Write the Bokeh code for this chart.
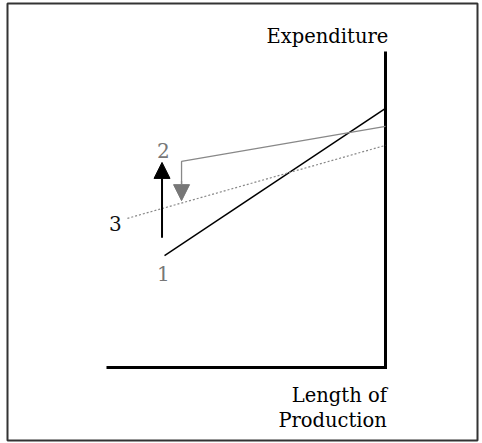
from bokeh.plotting import figure
from bokeh.models import Range1d, Arrow, NormalHead, Label
from bokeh.embed import file_html
from bokeh.resources import INLINE

# Conceptual coordinates: length of production (x) and expenditure (y), 0..10
axis_x = [0.0, 10.0, 10.0]
axis_y = [0.0, 0.0, 10.0]

line1_x = [2.08, 10.0]
line1_y = [3.54, 8.2]

line2_x = [2.69, 2.69, 10.0]
line2_y = [5.6, 6.52, 7.63]
drop2_from = (2.69, 5.9)
drop2_to = (2.69, 5.28)

line3_x = [0.75, 10.0]
line3_y = [4.72, 7.03]

rise_from = (1.99, 4.11)
rise_to = (1.99, 6.49)

labels = ["1", "2", "3"]
label_x = [2.04, 2.04, 0.32]
label_y = [2.97, 6.87, 4.56]
label_colors = ["#777777", "#777777", "#111111"]

FONT = "DejaVu Serif"

p = figure(width=482, height=443, output_backend="svg", toolbar_location=None,
           x_range=Range1d(-3.548, 13.297), y_range=Range1d(-2.31, 11.519),
           min_border_left=7, min_border_right=5,
           min_border_top=3, min_border_bottom=3)
p.axis.visible = False
p.grid.visible = False
p.outline_line_color = "#333333"
p.outline_line_width = 2

p.line(axis_x, axis_y, line_color="black", line_width=3, line_join="miter")
p.line(line1_x, line1_y, line_color="black", line_width=1.5)
p.line(line2_x, line2_y, line_color="#888888", line_width=1.3)
p.line(line3_x, line3_y, line_color="#888888", line_width=1.2, line_dash="2 2")

p.add_layout(Arrow(end=NormalHead(size=16, fill_color="#777777", line_color="#777777"),
                   x_start=drop2_from[0], y_start=drop2_from[1],
                   x_end=drop2_to[0], y_end=drop2_to[1],
                   line_color="#888888", line_width=1.3))
p.add_layout(Arrow(end=NormalHead(size=16, fill_color="black", line_color="black"),
                   x_start=rise_from[0], y_start=rise_from[1],
                   x_end=rise_to[0], y_end=rise_to[1],
                   line_color="black", line_width=2))

for t, x, y, c in zip(labels, label_x, label_y, label_colors):
    p.add_layout(Label(x=x, y=y, text=t, text_color=c, text_font=FONT,
                       text_font_size="20px", text_align="center",
                       text_baseline="middle"))

p.add_layout(Label(x=10.1, y=10.47, text="Expenditure", text_font=FONT,
                   text_font_size="19.5px", text_align="right",
                   text_baseline="alphabetic", text_color="black"))
p.add_layout(Label(x=10.05, y=-0.886, text="Length of", text_font=FONT,
                   text_font_size="19.5px", text_align="right",
                   text_baseline="alphabetic", text_color="black"))
p.add_layout(Label(x=10.05, y=-1.677, text="Production", text_font=FONT,
                   text_font_size="19.5px", text_align="right",
                   text_baseline="alphabetic", text_color="black"))

open("out.html", "w").write(file_html(p, INLINE))
